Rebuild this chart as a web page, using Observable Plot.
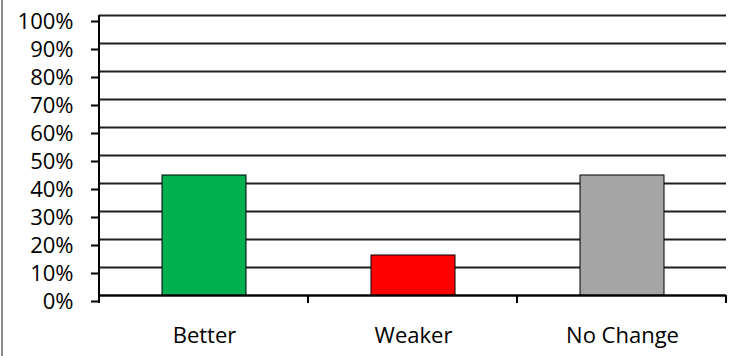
<!DOCTYPE html>
<html>
<head>
<meta charset="utf-8">
<script src="https://cdn.jsdelivr.net/npm/d3@7"></script>
<script src="https://cdn.jsdelivr.net/npm/@observablehq/plot@0.6"></script>
<style>
  html, body { margin: 0; padding: 0; background: #fff; }
  #chart { position: relative; width: 747px; height: 356px; }
  #chart .edge { position: absolute; left: 1px; top: 0; width: 2px; height: 356px; background: #8c8c8c; }
  #chart svg { display: block; }
</style>
</head>
<body>
<div id="chart"><div class="edge"></div></div>
<script>
// Survey responses: share of answers per outcome
const categories = ["Better", "Weaker", "No Change"];
const shares = [0.4286, 0.1429, 0.4286];
const yTicks = [0, 0.1, 0.2, 0.3, 0.4, 0.5, 0.6, 0.7, 0.8, 0.9, 1];
const barColors = ["#00B050", "#FF0000", "#A5A5A5"];

const rows = categories.map((category, i) => ({category, share: shares[i]}));

// Vertical axis line plus the small tick marks between categories
function categoryDividers(index, {x, y}) {
  const g = d3.create("svg:g").attr("stroke", "#000").attr("stroke-width", 2);
  const [r0] = x.range();
  const step = x.step();
  const y0 = y(0);
  g.append("line").attr("x1", r0).attr("x2", r0).attr("y1", y(1)).attr("y2", y0);
  for (let i = 0; i <= categories.length; i++) {
    const px = r0 + i * step;
    g.append("line").attr("x1", px).attr("x2", px).attr("y1", y0).attr("y2", y0 + 8);
  }
  return g.node();
}

const chart = Plot.plot({
  width: 747,
  height: 356,
  marginLeft: 99,
  marginRight: 21,
  marginTop: 15,
  marginBottom: 61,
  style: {fontFamily: "'Open Sans', sans-serif", fontSize: "22px", color: "#000", background: "transparent"},
  x: {domain: categories, paddingInner: 0.6, paddingOuter: 0.3, label: null},
  y: {domain: [0, 1], label: null},
  color: {domain: categories, range: barColors},
  marks: [
    Plot.ruleY(yTicks, {stroke: "#1f1f1f", strokeWidth: 2}),
    Plot.axisY({ticks: yTicks, tickFormat: d3.format(".0%"), tickSize: 8, tickPadding: 18, dy: 6,
                fontSize: 22, strokeWidth: 2, stroke: "#000", fill: "#000", label: null}),
    Plot.axisX({tickSize: 0, tickPadding: 32, fontSize: 22, fill: "#000", label: null}),
    Plot.barY(rows, {x: "category", y: "share", fill: "category", stroke: "#000", strokeWidth: 1}),
    Plot.ruleY([0], {stroke: "#000", strokeWidth: 2}),
    categoryDividers
  ]
});

document.getElementById("chart").appendChild(chart);
</script>
</body>
</html>
